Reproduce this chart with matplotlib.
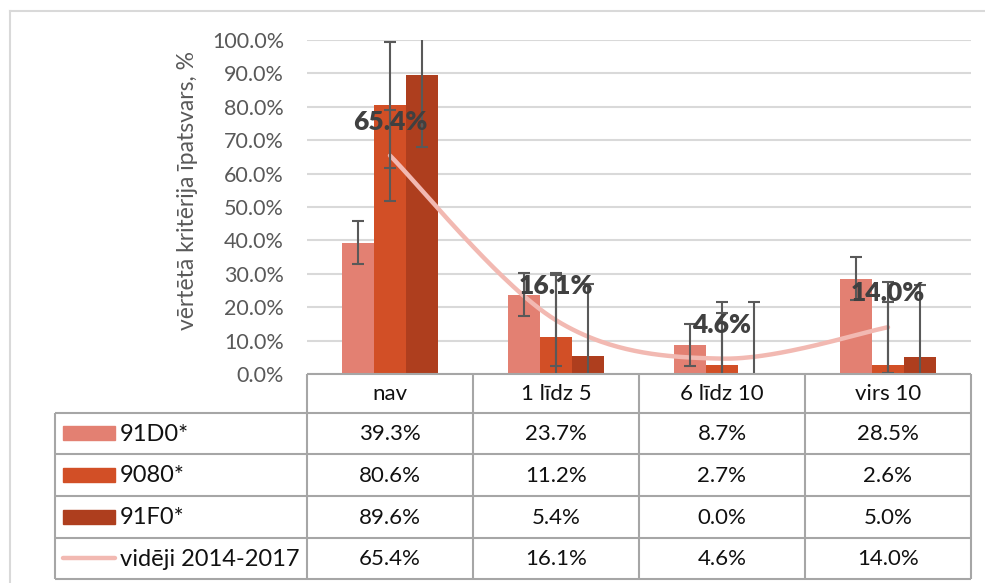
import numpy as np
import matplotlib
matplotlib.use("Agg")
import matplotlib.pyplot as plt
from matplotlib.lines import Line2D

plt.rcParams['font.family'] = ['Lato', 'DejaVu Sans']

# ---- data ----
categories = ["nav", "1 līdz 5", "6 līdz 10", "virs 10"]
series_names = ["91D0*", "9080*", "91F0*"]
s_91D0 = [39.3, 23.7, 8.7, 28.5]
s_9080 = [80.6, 11.2, 2.7, 2.6]
s_91F0 = [89.6, 5.4, 0.0, 5.0]
avg_name = "vidēji 2014-2017"
avg_vals = [65.4, 16.1, 4.6, 14.0]
# error bar half-widths (percentage points)
err_91D0 = 6.4
err_9080 = 18.9
err_91F0 = 21.6
err_avg = 13.6
yticks = [0, 10, 20, 30, 40, 50, 60, 70, 80, 90, 100]
ylabel = "vērtētā kritērija īpatsvars, %"

bar_colors = ["#E38072", "#D24F26", "#AE3E1E"]
avg_color = "#F2B9B2"
err_color = "#595959"
grid_color = "#D9D9D9"
table_line = "#A6A6A6"

W, H = 985, 583
fig = plt.figure(figsize=(W / 100, H / 100), dpi=100)

# plot area in pixel units
px_left, px_right, px_top, px_bottom = 307, 971, 40, 374
ax = fig.add_axes([px_left / W, 1 - px_bottom / H,
                   (px_right - px_left) / W, (px_bottom - px_top) / H])

x = np.arange(len(categories))
bw = 0.191
series = [s_91D0, s_9080, s_91F0]
errs = [err_91D0, err_9080, err_91F0]
for i, (vals, e, c) in enumerate(zip(series, errs, bar_colors)):
    xs = x + (i - 1) * bw
    ax.bar(xs, vals, width=bw, color=c, zorder=2)
    ax.errorbar(xs, vals, yerr=e, fmt="none", ecolor=err_color,
                elinewidth=1.5, capsize=4.5, capthick=1.5, zorder=5)


# smoothed line (cubic Bezier through points, Catmull-Rom tangents)
def smooth(xp, yp, n=60):
    xp = np.asarray(xp, float)
    yp = np.asarray(yp, float)
    P = np.column_stack([xp, yp])
    Pe = np.vstack([P[0], P, P[-1]])
    out = []
    for k in range(len(P) - 1):
        p0, p1, p2, p3 = Pe[k], Pe[k + 1], Pe[k + 2], Pe[k + 3]
        c1 = p1 + (p2 - p0) / 6
        c2 = p2 - (p3 - p1) / 6
        t = np.linspace(0, 1, n)[:, None]
        seg = ((1 - t) ** 3) * p1 + 3 * ((1 - t) ** 2) * t * c1 \
            + 3 * (1 - t) * t ** 2 * c2 + t ** 3 * p2
        out.append(seg if k == 0 else seg[1:])
    return np.vstack(out)


curve = smooth(x, avg_vals)
ax.plot(curve[:, 0], curve[:, 1], color=avg_color, lw=3.2,
        solid_capstyle="round", zorder=3)
ax.errorbar(x, avg_vals, yerr=err_avg, fmt="none", ecolor=err_color,
            elinewidth=1.5, capsize=4.5, capthick=1.5, zorder=5)
for xi, v in zip(x, avg_vals):
    ax.annotate(f"{v:.1f}%", (xi, v), xytext=(0, 24.5),
                textcoords="offset points", ha="center", va="center",
                fontsize=19, fontweight="heavy", color="#404040", zorder=6)

ax.set_xlim(-0.5, len(categories) - 0.5)
ax.set_ylim(0, 100)
ax.set_yticks(yticks)
ax.set_yticklabels([f"{t:.1f}%" for t in yticks], fontsize=15.5,
                   color="#595959")
ax.tick_params(axis="y", length=0, pad=16.5)
ax.set_xticks([])
ax.grid(axis="y", color=grid_color, lw=1.5, zorder=0)
ax.set_axisbelow(True)
for s in ax.spines.values():
    s.set_visible(False)
fig.text(188 / W, 1 - 190 / H, ylabel, rotation=90, ha="center",
         va="center", fontsize=16.5, color="#595959")

# ---- overlay: chart frame and data table ----
ov = fig.add_axes([0, 0, 1, 1], zorder=10)
ov.set_xlim(0, W)
ov.set_ylim(H, 0)
ov.axis("off")
ov.patch.set_alpha(0)

ov.add_line(Line2D([10, 10], [11, H], color=grid_color, lw=1.5))
ov.add_line(Line2D([10, W], [11, 11], color=grid_color, lw=1.5))

col_edges = np.linspace(px_left, px_right, len(categories) + 1)
tbl_left = 55
row_edges = [374, 412.5, 454, 496, 537.5, 579]
lkw = dict(color=table_line, lw=1.5, solid_capstyle="butt")
# horizontal lines
ov.add_line(Line2D([px_left, px_right], [row_edges[0]] * 2, **lkw))
for yy in row_edges[1:]:
    ov.add_line(Line2D([tbl_left, px_right], [yy, yy], **lkw))
# vertical lines
ov.add_line(Line2D([tbl_left, tbl_left], [row_edges[1], row_edges[-1]], **lkw))
for xx in col_edges:
    ov.add_line(Line2D([xx, xx], [row_edges[0], row_edges[-1]], **lkw))

tkw = dict(ha="center", va="center", fontsize=16, color="#111111")
centers = (col_edges[:-1] + col_edges[1:]) / 2
rmid = [(row_edges[i] + row_edges[i + 1]) / 2 for i in range(5)]
for cx, name in zip(centers, categories):
    ov.text(cx, rmid[0] + 1, name, **tkw)

rows = list(zip(series_names, series)) + [(avg_name, avg_vals)]
for r, (name, vals) in enumerate(rows):
    yy = rmid[r + 1]
    for cx, v in zip(centers, vals):
        ov.text(cx, yy + 1, f"{v:.1f}%", **tkw)
    if r < 3:
        ov.add_patch(plt.Rectangle((63, yy - 7), 52, 14,
                                   color=bar_colors[r]))
    else:
        ov.add_line(Line2D([63, 115], [yy, yy], color=avg_color, lw=3.2,
                           solid_capstyle="round"))
    ov.text(120, yy + 1, name, ha="left", va="center", fontsize=17,
            color="#111111")

fig.savefig("out.png", dpi=100, facecolor="white")
